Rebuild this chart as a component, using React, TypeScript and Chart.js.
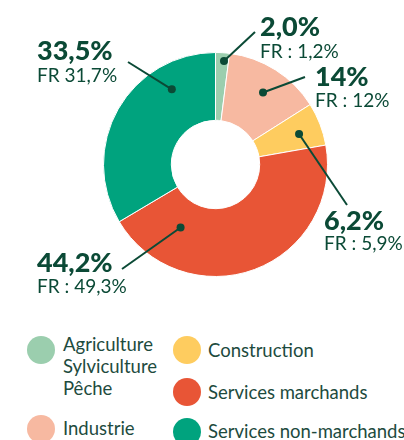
import React, { useEffect, useRef } from "react";
import { Chart, registerables } from "chart.js";

Chart.register(...registerables);

// ---- data ----
const categories = [
  "Agriculture Sylviculture Pêche",
  "Industrie",
  "Construction",
  "Services marchands",
  "Services non-marchands",
];
const legendLines = [
  ["Agriculture", "Sylviculture", "Pêche"],
  ["Industrie"],
  ["Construction"],
  ["Services marchands"],
  ["Services non-marchands"],
];
const shares = [2.0, 14, 6.2, 44.2, 33.5];
const shareLabels = ["2,0%", "14%", "6,2%", "44,2%", "33,5%"];
const frLabels = ["FR : 1,2%", "FR : 12%", "FR : 5,9%", "FR : 49,3%", "FR 31,7%"];

// ---- styles / layout ----
const colors = ["#9BCEAE", "#F7B9A1", "#FECC5F", "#E85536", "#00A37E"];
const textColor = "#0B4A36";
const legendTextColor = "#1D4B3E";

// per-annotation layout: t = position along segment, f = radial fraction in ring,
// (ex, ey) = leader line end relative to centre, tx = text left, by / fy = baselines
const annot = [
  { t: 0.65, f: 0.88, ex: 39.5, ey: -132.5, tx: 44.5, by: -129, fy: -107 },
  { t: 0.52, f: 0.62, ex: 89.5, ey: -87.5, tx: 99.5, by: -79, fy: -58 },
  { t: 0.55, f: 0.66, ex: 131.5, ey: 40.5, tx: 108.5, by: 65, fy: 85 },
  { t: 0.81, f: 0.41, ex: -93.5, ey: 104.5, tx: -178.5, by: 107.5, fy: 128 },
  { t: 0.75, f: 0.63, ex: -87.5, ey: -102.5, tx: -178.5, by: -105, fy: -83 },
];

const legendPos = [
  { x: 27, y: 336, tx: 63, ty: 333 },
  { x: 27, y: 415, tx: 63, ty: 417 },
  { x: 173, y: 336, tx: 208, ty: 339 },
  { x: 173, y: 378, tx: 208, ty: 381 },
  { x: 173, y: 418, tx: 208, ty: 420 },
];

const annotationPlugin = {
  id: "annotations",
  afterDatasetsDraw(chart: any) {
    const ctx = chart.ctx;
    const meta = chart.getDatasetMeta(0);
    meta.data.forEach((arc: any, i: number) => {
      const p = arc.getProps(["x", "y", "startAngle", "endAngle", "innerRadius", "outerRadius"], true);
      const a = annot[i];
      const ang = p.startAngle + (p.endAngle - p.startAngle) * a.t;
      const r = p.innerRadius + (p.outerRadius - p.innerRadius) * a.f;
      const dx = p.x + Math.cos(ang) * r;
      const dy = p.y + Math.sin(ang) * r;
      ctx.save();
      ctx.strokeStyle = textColor;
      ctx.fillStyle = textColor;
      ctx.lineWidth = 2;
      ctx.beginPath();
      ctx.moveTo(dx, dy);
      ctx.lineTo(p.x + a.ex, p.y + a.ey);
      ctx.stroke();
      ctx.beginPath();
      ctx.arc(dx, dy, 4, 0, Math.PI * 2);
      ctx.fill();
      ctx.textAlign = "left";
      ctx.textBaseline = "alphabetic";
      ctx.font = "900 27px Lato";
      ctx.fillText(shareLabels[i], p.x + a.tx, p.y + a.by);
      ctx.font = "400 19px Lato";
      ctx.fillText(frLabels[i], p.x + a.tx, p.y + a.fy);
      ctx.restore();
    });
  },
};

export default function App() {
  const ref = useRef<HTMLCanvasElement>(null);
  useEffect(() => {
    document.body.style.margin = "0";
    const chart = new Chart(ref.current!, {
      type: "doughnut",
      data: {
        labels: categories,
        datasets: [
          {
            data: shares,
            backgroundColor: colors,
            borderColor: "#ffffff",
            borderWidth: 1,
          },
        ],
      },
      options: {
        animation: false,
        responsive: false,
        radius: 112,
        cutout: 44,
        layout: { padding: { left: 103.5, right: 76.5, top: 52.5, bottom: 33.5 } },
        plugins: { legend: { display: false }, tooltip: { enabled: false } },
        events: [],
      } as any,
      plugins: [annotationPlugin],
    });
    return () => chart.destroy();
  }, []);

  return (
    <div style={{ position: "relative", width: 404, height: 440, overflow: "hidden", background: "#fff" }}>
      <canvas ref={ref} width={404} height={310} style={{ position: "absolute", left: 0, top: 0 }} />
      {categories.map((c, i) => (
        <React.Fragment key={c}>
          <div
            style={{
              position: "absolute",
              left: legendPos[i].x,
              top: legendPos[i].y,
              width: 28,
              height: 28,
              borderRadius: "50%",
              background: colors[i],
            }}
          />
          <div
            style={{
              position: "absolute",
              left: legendPos[i].tx,
              top: legendPos[i].ty,
              fontFamily: "Lato",
              fontSize: 18.5,
              lineHeight: "22px",
              color: legendTextColor,
              whiteSpace: "nowrap",
            }}
          >
            {legendLines[i].map((l) => (
              <div key={l}>{l}</div>
            ))}
          </div>
        </React.Fragment>
      ))}
    </div>
  );
}
